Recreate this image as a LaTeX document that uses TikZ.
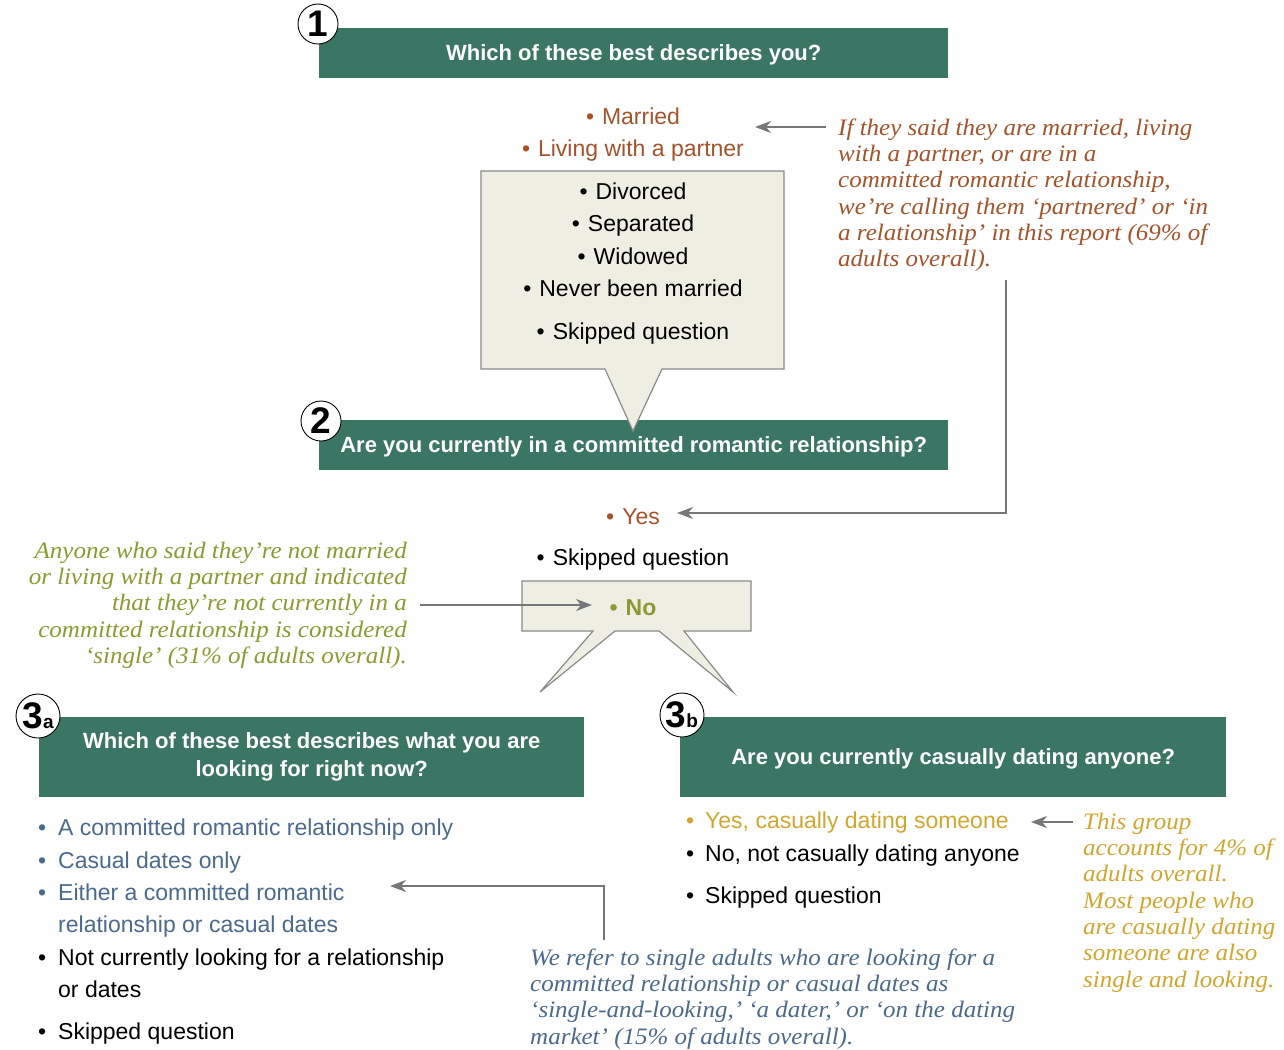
\documentclass[tikz,border=0pt]{standalone}
\usepackage{fontspec}
\setmainfont{Liberation Sans}
\newfontfamily\notefamily[FakeStretch=1.06]{Liberation Serif}
\usetikzlibrary{arrows.meta}
\definecolor{qgreen}{HTML}{3B7563}
\definecolor{brownc}{HTML}{A5532B}
\definecolor{olivec}{HTML}{8C9A31}
\definecolor{bluec}{HTML}{4B6A8C}
\definecolor{goldc}{HTML}{D2A62E}
\definecolor{creamc}{HTML}{EEEEE2}
\definecolor{arrgray}{HTML}{76777A}
\definecolor{balgray}{HTML}{8A8A8A}
\newcommand\titlefont{\fontsize{22}{28}\selectfont\bfseries}
\newcommand\itemfont{\fontsize{23}{28}\selectfont}
\newcommand\numfont{\fontsize{37}{37}\selectfont\bfseries}
\newcommand\notefont{\notefamily\itshape\fontsize{23.6}{26.3}\selectfont}
\newcommand\bul{•\hspace{8pt}}
\newcommand\strt{\rule{0pt}{20pt}}
\tikzset{
  qbox/.style={fill=qgreen, text=white, inner sep=0pt, anchor=north west, font=\titlefont, align=center},
  qone/.style={qbox, text height=15.5pt, text depth=0pt},
  numc/.style={circle, draw=black, line width=0.9pt, fill=white, inner sep=0pt, font=\numfont},
  item/.style={anchor=base, inner sep=0pt, font=\itemfont},
  itemL/.style={anchor=base west, inner sep=0pt, font=\itemfont},
  note/.style={inner sep=0pt, font=\notefont},
  arr/.style={draw=arrgray, line width=1.4pt, -{Stealth[length=16pt,width=12pt,inset=5pt]}},
  balloon/.style={fill=creamc, draw=balgray, line width=1.2pt, line join=miter},
}
\begin{document}
\begin{tikzpicture}[x=1pt,y=-1pt]
\useasboundingbox (0,0) rectangle (1284,1049);
\fill[white] (0,0) rectangle (1284,1049);

% Question 1
\node[qone, minimum width=629pt, minimum height=50pt] (q1) at (319,28) {Which of these best describes you?};
\node[numc, minimum size=40pt] (n1) at (318,24) {1};

\node[item, text=brownc] (married) at (633,124) {\bul Married};
\node[item, text=brownc] (living) at (633,156) {\bul Living with a partner};

% Question 2
\node[qone, minimum width=629pt, minimum height=50pt] (q2) at (319,420) {Are you currently in a committed romantic relationship?};
\node[numc, minimum size=40pt] (n2) at (321,421) {2};

% balloon 1
\draw[balloon] (481,171) -- (784,171) -- (784,369) -- (662,369) -- (633,431) -- (605,369) -- (481,369) -- cycle;
\node[item] (divorced) at (633,199) {\bul Divorced};
\node[item] (separated) at (633,231) {\bul Separated};
\node[item] (widowed) at (633,264) {\bul Widowed};
\node[item] (never) at (633,296) {\bul Never been married};
\node[item] (skip1) at (633,339) {\bul Skipped question};

% note 1
\node[note, text=brownc, anchor=north west, align=left] (note1) at (838,115)
 {\strt If they said they are married, living\\with a partner, or are in a\\committed romantic relationship,\\we’re calling them ‘partnered’ or ‘in\\a relationship’ in this report (69\% of\\adults overall).};

\coordinate (p1s) at (826,127);
\coordinate (p1e) at (755,127);
\draw[arr] (p1s) -- (p1e);

\node[item, text=brownc] (yes) at (633,524) {\bul Yes};
\node[item] (skip2) at (633,565) {\bul Skipped question};
\coordinate (p2s) at (1006,280);
\coordinate (p2e) at (677,513);
\draw[arr] (p2s) |- (p2e);

% balloon 2
\draw[balloon] (522,581) -- (751,581) -- (751,631) -- (684,631) -- (733,692) -- (659,631) -- (615,631) -- (540,692) -- (593,631) -- (522,631) -- cycle;
\node[item, text=olivec, font=\itemfont\bfseries] (no) at (633,615) {\bul No};

% note 2
\node[note, text=olivec, anchor=north east, align=right] (note2) at (407,538)
 {\strt Anyone who said they’re not married\\or living with a partner and indicated\\that they’re not currently in a\\committed relationship is considered\\‘single’ (31\% of adults overall).};
\coordinate (p3s) at (420,605);
\coordinate (p3e) at (592,605);
\draw[arr] (p3s) -- (p3e);

% Question 3a
\node[qbox, minimum width=545pt, minimum height=80pt] (q3a) at (39,717) {Which of these best describes what you are\\looking for right now?};
\node[numc, minimum size=44pt] (n3a) at (38,716) {3\fontsize{19}{19}\selectfont a};

% Question 3b
\node[qone, minimum width=546pt, minimum height=80pt] (q3b) at (680,717) {Are you currently casually dating anyone?};
\node[numc, minimum size=44pt] (n3b) at (682,715) {3\fontsize{19}{19}\selectfont b};

% 3a list
\node[itemL, text=bluec] (a1) at (38,835) {\makebox[20pt][l]{•}A committed romantic relationship only};
\node[itemL, text=bluec] (a2) at (38,868) {\makebox[20pt][l]{•}Casual dates only};
\node[itemL, text=bluec] (a3) at (38,900) {\makebox[20pt][l]{•}Either a committed romantic};
\node[itemL, text=bluec] (a3b) at (58,932) {relationship or casual dates};
\node[itemL] (a4) at (38,965) {\makebox[20pt][l]{•}Not currently looking for a relationship};
\node[itemL] (a4b) at (58,997) {or dates};
\node[itemL] (a5) at (38,1039) {\makebox[20pt][l]{•}Skipped question};

% note 3
\node[note, text=bluec, anchor=north west, align=left] (note3) at (530,945)
 {\strt We refer to single adults who are looking for a\\committed relationship or casual dates as\\‘single-and-looking,’ ‘a dater,’ or ‘on the dating\\market’ (15\% of adults overall).};
\coordinate (p4s) at (604,940);
\coordinate (p4e) at (390,886);
\draw[arr] (p4s) |- (p4e);

% 3b list
\node[itemL, text=goldc] (b1) at (686,828) {\makebox[19pt][l]{•}Yes, casually dating someone};
\node[itemL] (b2) at (686,861) {\makebox[19pt][l]{•}No, not casually dating anyone};
\node[itemL] (b3) at (686,903) {\makebox[19pt][l]{•}Skipped question};

% note 4
\node[note, text=goldc, anchor=north west, align=left] (note4) at (1083,809)
 {\strt This group\\accounts for 4\% of\\adults overall.\\Most people who\\are casually dating\\someone are also\\single and looking.};
\coordinate (p5s) at (1073,822);
\coordinate (p5e) at (1031,822);
\draw[arr] (p5s) -- (p5e);
\end{tikzpicture}
\end{document}
